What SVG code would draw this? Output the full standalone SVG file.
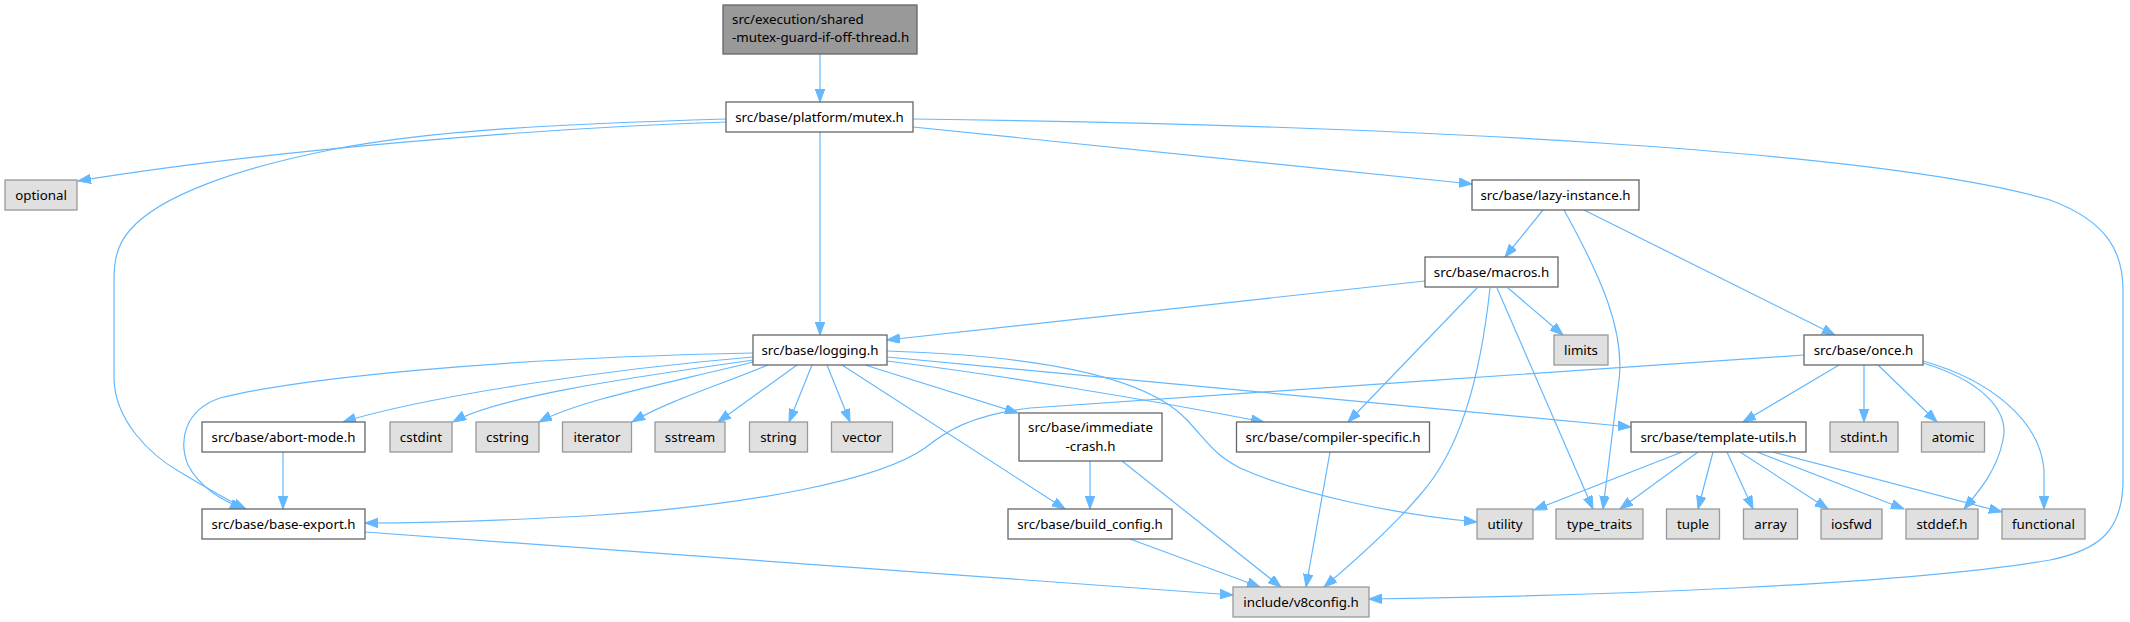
<svg xmlns="http://www.w3.org/2000/svg" width="2130" height="622" viewBox="0 0 2130 622">
<style>
.n rect{fill:#ffffff;stroke:#666666;stroke-width:1.3}
.x rect{fill:#e0e0e0;stroke:#999999;stroke-width:1.3}
.r rect{fill:#999999;stroke:#666666;stroke-width:1.3}
text{font-family:"Noto Sans","Open Sans",sans-serif;font-size:13.33px;fill:#000000;text-anchor:middle}
#edges path{fill:none;stroke:#63b8ff;stroke-width:1.2;marker-end:url(#a)}
</style>
<defs>
<marker id="a" markerUnits="userSpaceOnUse" markerWidth="14" markerHeight="10" refX="13" refY="4.75" orient="auto"><path d="M0,0 L13,4.75 L0,9.5 z" fill="#63b8ff" stroke="#63b8ff" stroke-width="1"/></marker>
</defs>
<rect width="2130" height="622" fill="#ffffff"/>
<g id="edges">
<path d="M820,54 L820,102"/>
<path d="M726,122 C 540,128 270,150 78,181"/>
<path d="M726,119 C 560,124 430,130 330,150 C 240,168 160,195 130,230 C 117,245 114,260 114,280 L114,377 C 114,420 150,455 180,472 C 205,487 225,499 246,509"/>
<path d="M820,132 L820,335"/>
<path d="M913,127 L1472,184"/>
<path d="M913,119 C 1400,125 1880,150 2050,200 C 2110,222 2123,255 2123,290 L2123,480 C 2123,530 2100,550 2050,560 C 1900,585 1600,596 1369,599"/>
<path d="M1543,210 L1505,257"/>
<path d="M1564,210 C 1600,275 1625,330 1619,380 L1603,509"/>
<path d="M1584,210 L1835,335"/>
<path d="M1425,281 L887,340"/>
<path d="M1508,288 L1563,335"/>
<path d="M1477,288 L1348,422"/>
<path d="M1497,288 L1593,509"/>
<path d="M1490,288 C 1480,380 1460,450 1420,495 C 1390,530 1350,565 1324,587"/>
<path d="M753,353 C 500,358 300,378 220,398 C 185,410 178,440 188,465 C 200,488 222,500 243,509"/>
<path d="M753,357 C 620,368 430,395 343,422"/>
<path d="M753,360 C 650,375 500,395 453,422"/>
<path d="M753,362 C 660,385 580,400 539,422"/>
<path d="M768,365 C 720,385 670,400 632,422"/>
<path d="M797,365 L718,422"/>
<path d="M812,365 L789,422"/>
<path d="M827,365 L850,422"/>
<path d="M842,365 L1065,509"/>
<path d="M865,365 L1018,413"/>
<path d="M887,361 C 1000,375 1150,400 1264,422"/>
<path d="M887,357 L1631,427"/>
<path d="M887,351 C 1050,356 1150,380 1187,420 C 1210,445 1215,455 1240,468 C 1300,495 1400,515 1477,522"/>
<path d="M283,452 L283,509"/>
<path d="M365,532 L1233,595"/>
<path d="M1090,461 L1090,509"/>
<path d="M1122,461 L1281,587"/>
<path d="M1130,539 L1260,587"/>
<path d="M1330,452 L1306,587"/>
<path d="M1804,355 C 1600,370 1200,395 1030,408 C 970,415 945,432 925,448 C 880,480 750,505 600,515 C 500,521 420,523 365,523"/>
<path d="M1839,365 L1743,422"/>
<path d="M1864,365 L1864,422"/>
<path d="M1878,365 L1937,422"/>
<path d="M1923,363 C 1980,380 2010,410 2003,440 C 1997,470 1980,490 1964,509"/>
<path d="M1923,361 C 1990,380 2040,420 2044,470 L2044,509"/>
<path d="M1682,452 L1534,510"/>
<path d="M1698,452 L1620,509"/>
<path d="M1713,452 L1698,509"/>
<path d="M1727,452 L1753,509"/>
<path d="M1740,452 L1828,509"/>
<path d="M1757,452 L1904,509"/>
<path d="M1773,452 L2002,512"/>
</g>
<g id="node-root" class="r"><rect x="723" y="5" width="194" height="49"/><text x="732" y="23.5" style="text-anchor:start">src/execution/shared</text><text x="732" y="42" style="text-anchor:start">-mutex-guard-if-off-thread.h</text></g>
<g id="node-mutex" class="n"><rect x="726" y="102" width="187" height="30"/><text x="819.5" y="121.5">src/base/platform/mutex.h</text></g>
<g id="node-optional" class="x"><rect x="5" y="180" width="72" height="30"/><text x="41" y="199.5">optional</text></g>
<g id="node-lazy" class="n"><rect x="1472" y="180" width="167" height="30"/><text x="1555.5" y="199.5">src/base/lazy-instance.h</text></g>
<g id="node-macros" class="n"><rect x="1425" y="257" width="133" height="30"/><text x="1491.5" y="276.5">src/base/macros.h</text></g>
<g id="node-logging" class="n"><rect x="753" y="335" width="134" height="30"/><text x="820" y="354.5">src/base/logging.h</text></g>
<g id="node-limits" class="x"><rect x="1554" y="335" width="54" height="30"/><text x="1581" y="354.5">limits</text></g>
<g id="node-once" class="n"><rect x="1804" y="335" width="119" height="30"/><text x="1863.5" y="354.5">src/base/once.h</text></g>
<g id="node-abort" class="n"><rect x="202" y="422" width="163" height="30"/><text x="283.5" y="441.5">src/base/abort-mode.h</text></g>
<g id="node-cstdint" class="x"><rect x="390" y="422" width="62" height="30"/><text x="421" y="441.5">cstdint</text></g>
<g id="node-cstring" class="x"><rect x="476" y="422" width="63" height="30"/><text x="507.5" y="441.5">cstring</text></g>
<g id="node-iterator" class="x"><rect x="562.5" y="422" width="69" height="30"/><text x="597" y="441.5">iterator</text></g>
<g id="node-sstream" class="x"><rect x="655" y="422" width="70" height="30"/><text x="690" y="441.5">sstream</text></g>
<g id="node-string" class="x"><rect x="749.5" y="422" width="58" height="30"/><text x="778.5" y="441.5">string</text></g>
<g id="node-vector" class="x"><rect x="831.5" y="422" width="61" height="30"/><text x="862" y="441.5">vector</text></g>
<g id="node-immediate" class="n"><rect x="1019" y="413" width="143" height="48"/><text x="1090.5" y="431.5">src/base/immediate</text><text x="1090.5" y="450.5">-crash.h</text></g>
<g id="node-compiler" class="n"><rect x="1236.5" y="422" width="193" height="30"/><text x="1333" y="441.5">src/base/compiler-specific.h</text></g>
<g id="node-template" class="n"><rect x="1631" y="422" width="175" height="30"/><text x="1718.5" y="441.5">src/base/template-utils.h</text></g>
<g id="node-stdint" class="x"><rect x="1830" y="422" width="68" height="30"/><text x="1864" y="441.5">stdint.h</text></g>
<g id="node-atomic" class="x"><rect x="1921.5" y="422" width="63" height="30"/><text x="1953" y="441.5">atomic</text></g>
<g id="node-baseexport" class="n"><rect x="202" y="509" width="163" height="30"/><text x="283.5" y="528.5">src/base/base-export.h</text></g>
<g id="node-buildconfig" class="n"><rect x="1008" y="509" width="164" height="30"/><text x="1090" y="528.5">src/base/build_config.h</text></g>
<g id="node-utility" class="x"><rect x="1477" y="509" width="56" height="30"/><text x="1505" y="528.5">utility</text></g>
<g id="node-typetraits" class="x"><rect x="1556" y="509" width="87" height="30"/><text x="1599.5" y="528.5">type_traits</text></g>
<g id="node-tuple" class="x"><rect x="1666.5" y="509" width="53" height="30"/><text x="1693" y="528.5">tuple</text></g>
<g id="node-array" class="x"><rect x="1743.5" y="509" width="54" height="30"/><text x="1770.5" y="528.5">array</text></g>
<g id="node-iosfwd" class="x"><rect x="1821" y="509" width="61" height="30"/><text x="1851.5" y="528.5">iosfwd</text></g>
<g id="node-stddef" class="x"><rect x="1906" y="509" width="72" height="30"/><text x="1942" y="528.5">stddef.h</text></g>
<g id="node-functional" class="x"><rect x="2002" y="509" width="83" height="30"/><text x="2043.5" y="528.5">functional</text></g>
<g id="node-v8config" class="x"><rect x="1233" y="587" width="136" height="30"/><text x="1301" y="606.5">include/v8config.h</text></g>
</svg>
